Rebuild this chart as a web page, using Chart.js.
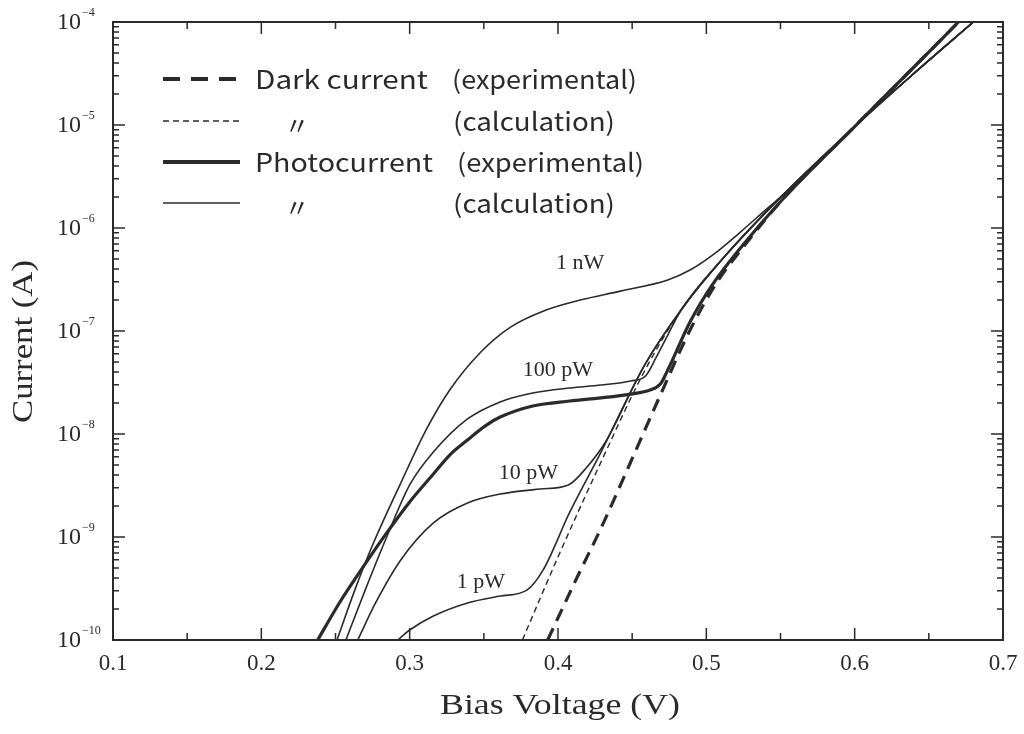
<!DOCTYPE html>
<html>
<head>
<meta charset="utf-8">
<script src="https://cdn.jsdelivr.net/npm/chart.js@4.4.1/dist/chart.umd.min.js"></script>
<style>
  html, body { margin: 0; padding: 0; background: #fff; }
  #wrap { width: 1024px; height: 734px; }
</style>
</head>
<body>
<div id="wrap"><canvas id="ivChart" width="1024" height="734"></canvas></div>
<script>
// tick values
const voltTicks = [0.1, 0.2, 0.3, 0.4, 0.5, 0.6, 0.7];
const decadeExps = [-10, -9, -8, -7, -6, -5, -4];

// dark current, experimental (thick dashed)
const darkExpV = [0.393, 0.413, 0.429, 0.449, 0.469, 0.489, 0.506, 0.527, 0.551, 0.599, 0.638, 0.670];
const darkExpA = [1.0e-10, 4.09e-10, 1.22e-9, 5.35e-9, 2.39e-8, 1.02e-7, 2.80e-7, 7.14e-7, 1.87e-6, 9.35e-6, 3.42e-5, 1.0e-4];

// dark current, calculation (thin dashed)
const darkCalcV = [0.376, 0.400, 0.429, 0.458, 0.483, 0.512, 0.551, 0.599, 0.638, 0.680];
const darkCalcA = [1.0e-10, 6.40e-10, 5.35e-9, 4.0e-8, 1.60e-7, 5.22e-7, 2.05e-6, 9.35e-6, 2.99e-5, 1.0e-4];

// photocurrent, experimental (thick solid)
const photoExpV = [0.238, 0.253, 0.269, 0.285, 0.300, 0.316, 0.327, 0.339, 0.351, 0.361, 0.383, 0.408, 0.429, 0.449, 0.462, 0.469, 0.474, 0.489, 0.504, 0.523, 0.551, 0.599, 0.638, 0.670];
const photoExpA = [1.0e-10, 2.34e-10, 5.22e-10, 1.12e-9, 2.19e-9, 4.09e-9, 6.25e-9, 8.75e-9, 1.20e-8, 1.46e-8, 1.87e-8, 2.09e-8, 2.24e-8, 2.44e-8, 2.67e-8, 3.05e-8, 4.18e-8, 1.22e-7, 2.80e-7, 6.40e-7, 1.87e-6, 9.35e-6, 3.42e-5, 1.0e-4];

// photocurrent, calculation (thin solid), one curve per optical power
const calc1pWV = [0.292, 0.300, 0.316, 0.339, 0.361, 0.379, 0.390, 0.408, 0.429, 0.458, 0.483, 0.512, 0.551, 0.599, 0.638, 0.680];
const calc1pWA = [1.0e-10, 1.25e-10, 1.71e-10, 2.29e-10, 2.67e-10, 3.05e-10, 4.79e-10, 1.75e-9, 6.68e-9, 4.57e-8, 1.60e-7, 5.22e-7, 2.05e-6, 9.35e-6, 2.99e-5, 1.0e-4];

const calc10pWV = [0.265, 0.277, 0.294, 0.316, 0.339, 0.361, 0.388, 0.407, 0.419, 0.432, 0.458, 0.483, 0.512, 0.551, 0.599, 0.638, 0.680];
const calc10pWA = [1.0e-10, 2.29e-10, 5.98e-10, 1.37e-9, 2.14e-9, 2.61e-9, 2.92e-9, 3.20e-9, 4.68e-9, 8.36e-9, 4.57e-8, 1.60e-7, 5.22e-7, 2.05e-6, 9.35e-6, 2.99e-5, 1.0e-4];

const calc100pWV = [0.257, 0.270, 0.285, 0.300, 0.316, 0.339, 0.361, 0.383, 0.408, 0.429, 0.449, 0.459, 0.466, 0.474, 0.483, 0.512, 0.551, 0.599, 0.638, 0.680];
const calc100pWA = [1.0e-10, 3.05e-10, 1.04e-9, 3.20e-9, 6.68e-9, 1.40e-8, 2.05e-8, 2.50e-8, 2.80e-8, 2.99e-8, 3.27e-8, 3.66e-8, 5.47e-8, 9.14e-8, 1.60e-7, 5.22e-7, 2.05e-6, 9.35e-6, 2.99e-5, 1.0e-4];

const calc1nWV = [0.251, 0.263, 0.275, 0.294, 0.311, 0.327, 0.348, 0.368, 0.392, 0.415, 0.442, 0.474, 0.489, 0.506, 0.523, 0.540, 0.551, 0.599, 0.638, 0.680];
const calc1nWA = [1.0e-10, 3.05e-10, 8.36e-10, 3.34e-9, 1.09e-8, 2.67e-8, 6.25e-8, 1.09e-7, 1.60e-7, 2.0e-7, 2.44e-7, 3.13e-7, 3.91e-7, 5.71e-7, 9.14e-7, 1.50e-6, 2.05e-6, 9.35e-6, 2.99e-5, 1.0e-4];

// power labels next to the calculated curves
const powerLabels = ['1 nW', '100 pW', '10 pW', '1 pW'];
const powerLabelV = [0.415, 0.400, 0.380, 0.348];
const powerLabelA = [4.6e-7, 4.2e-8, 4.2e-9, 3.66e-10];

const legendNames = ['Dark current', '\u3003', 'Photocurrent', '\u3003'];
const legendKinds = ['(experimental)', '(calculation)', '(experimental)', '(calculation)'];

const ink = '#2a2a2a';

function pts(vs, as) {
    return vs.map((v, i) => ({ x: v, y: as[i] }));
}

function line(data, width, dash) {
    return {
        data: data,
        borderColor: ink,
        borderWidth: width,
        borderDash: dash,
        pointRadius: 0,
        fill: false,
        cubicInterpolationMode: 'monotone'
    };
}

// draws text squeezed / stretched to a given width
function fitText(ctx, text, x, y, width) {
    const w = ctx.measureText(text).width;
    ctx.save();
    ctx.translate(x, y);
    ctx.scale(width / w, 1);
    ctx.textAlign = 'left';
    ctx.fillText(text, 0, 0);
    ctx.restore();
}

const frame = {
    id: 'frame',
    afterDatasetsDraw(chart) {
        const ctx = chart.ctx;
        const a = chart.chartArea;
        const xs = chart.scales.x, ys = chart.scales.y;
        ctx.save();
        ctx.strokeStyle = ink;
        ctx.fillStyle = ink;

        // box
        ctx.lineWidth = 2;
        ctx.strokeRect(a.left, a.top, a.right - a.left, a.bottom - a.top);

        // x ticks, inward, top and bottom
        ctx.lineWidth = 1.5;
        for (let i = 0; i < voltTicks.length - 1; i++) {
            [voltTicks[i], (voltTicks[i] + voltTicks[i + 1]) / 2].forEach((v, k) => {
                const px = xs.getPixelForValue(v);
                const len = k === 0 ? 12 : 7;
                ctx.beginPath();
                ctx.moveTo(px, a.bottom); ctx.lineTo(px, a.bottom - len);
                ctx.moveTo(px, a.top); ctx.lineTo(px, a.top + len);
                ctx.stroke();
            });
        }

        // y ticks, log minor ticks, left and right
        decadeExps.forEach((e, i) => {
            if (i === decadeExps.length - 1) return;
            for (let m = 1; m <= 9; m++) {
                const py = ys.getPixelForValue(m * Math.pow(10, e));
                const len = m === 1 ? 12 : 6;
                ctx.beginPath();
                ctx.moveTo(a.left, py); ctx.lineTo(a.left + len, py);
                ctx.moveTo(a.right, py); ctx.lineTo(a.right - len, py);
                ctx.stroke();
            }
        });

        // x tick labels
        ctx.font = '23px "Liberation Serif", serif';
        ctx.textAlign = 'center';
        ctx.textBaseline = 'middle';
        voltTicks.forEach(v => {
            ctx.fillText(v.toFixed(1), xs.getPixelForValue(v), a.bottom + 24);
        });

        // y tick labels 10^n
        decadeExps.forEach(e => {
            const py = ys.getPixelForValue(Math.pow(10, e));
            ctx.font = '24px "Liberation Serif", serif';
            ctx.textAlign = 'right';
            ctx.textBaseline = 'middle';
            ctx.fillText('10', 81, py + 1);
            ctx.font = '12px "Liberation Serif", serif';
            ctx.textAlign = 'left';
            ctx.fillText('\u2212' + Math.abs(e), 82, py - 9);
        });

        // axis titles
        ctx.font = '30px "Liberation Serif", serif';
        ctx.textBaseline = 'middle';
        fitText(ctx, 'Bias Voltage (V)', 440, 706, 240);
        ctx.save();
        ctx.translate(24, 423);
        ctx.rotate(-Math.PI / 2);
        fitText(ctx, 'Current (A)', 0, 0, 163);
        ctx.restore();

        // power labels
        ctx.font = '22px "Liberation Serif", serif';
        ctx.textAlign = 'center';
        powerLabels.forEach((t, i) => {
            ctx.fillText(t, xs.getPixelForValue(powerLabelV[i]), ys.getPixelForValue(powerLabelA[i]));
        });

        // legend
        const rowY = [79, 121, 162, 203];
        const styles = [[4, [17, 11]], [1.5, [6, 4]], [4, []], [1.5, []]];
        const nameW = [173, 0, 178, 0];
        const kindX = [452, 453, 457, 453];
        const kindW = [185, 162, 187, 162];
        ctx.font = '25px "Noto Sans CJK JP", "Noto Sans", sans-serif';
        rowY.forEach((y, i) => {
            ctx.lineWidth = styles[i][0];
            ctx.setLineDash(styles[i][1]);
            ctx.beginPath();
            ctx.moveTo(163, y); ctx.lineTo(240, y);
            ctx.stroke();
            ctx.setLineDash([]);
            if (nameW[i]) {
                fitText(ctx, legendNames[i], 255, y, nameW[i]);
            } else {
                ctx.textAlign = 'center';
                ctx.fillText(legendNames[i], 297, y + 4);
            }
            fitText(ctx, legendKinds[i], kindX[i], y, kindW[i]);
        });
        ctx.restore();
    }
};

new Chart(document.getElementById('ivChart'), {
    type: 'line',
    data: {
        datasets: [
            line(pts(darkExpV, darkExpA), 3.2, [13, 8]),
            line(pts(darkCalcV, darkCalcA), 1.4, [6, 4]),
            line(pts(calc1pWV, calc1pWA), 1.6, []),
            line(pts(calc10pWV, calc10pWA), 1.6, []),
            line(pts(calc100pWV, calc100pWA), 1.6, []),
            line(pts(calc1nWV, calc1nWA), 1.6, []),
            line(pts(photoExpV, photoExpA), 3.2, [])
        ]
    },
    options: {
        responsive: false,
        animation: false,
        devicePixelRatio: 1,
        layout: { padding: { left: 113, top: 22, right: 21, bottom: 94 } },
        plugins: { legend: { display: false }, tooltip: { enabled: false } },
        scales: {
            x: { type: 'linear', min: 0.1, max: 0.7, display: false },
            y: { type: 'logarithmic', min: 1e-10, max: 1e-4, display: false }
        }
    },
    plugins: [frame]
});
</script>
</body>
</html>
